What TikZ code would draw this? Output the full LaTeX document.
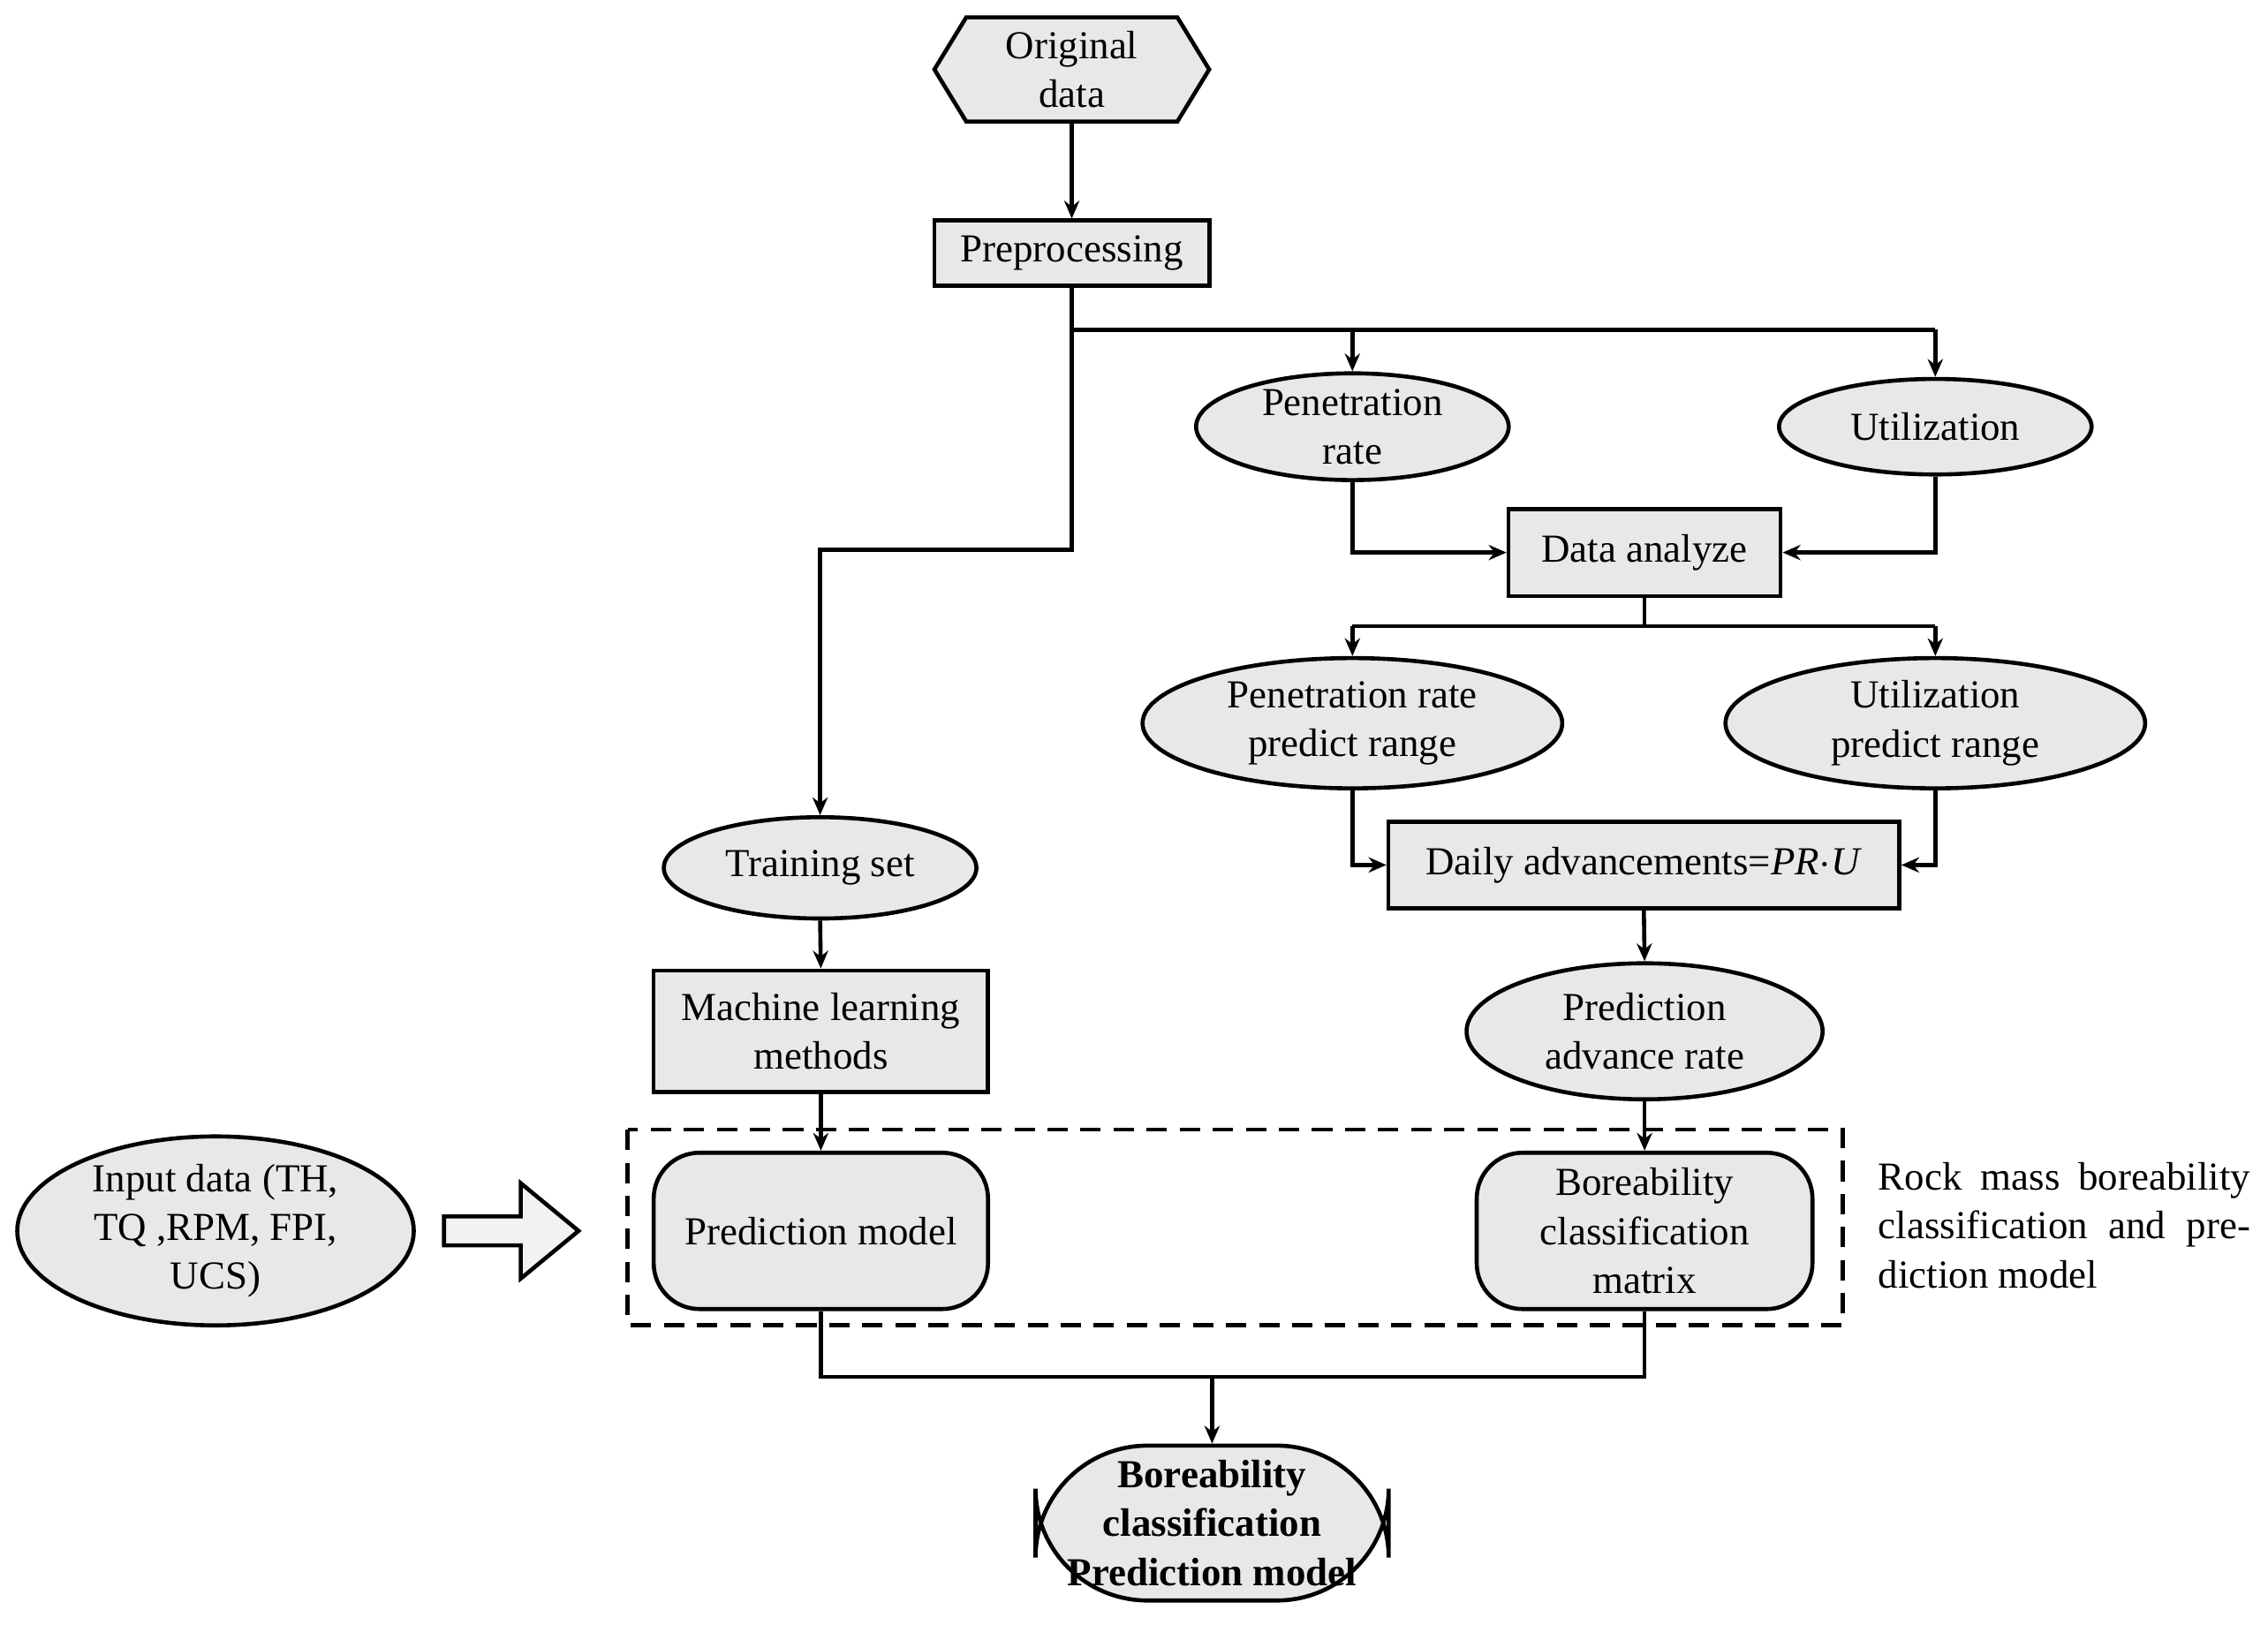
\documentclass[tikz,border=0pt]{standalone}
\usepackage{fontspec}
\setmainfont{Liberation Serif}
\usetikzlibrary{arrows.meta,shapes.geometric}
\begin{document}
\begin{tikzpicture}[x=0.01cm,y=-0.01cm,
  every node/.style={font=\fontsize{7.8}{9.6}\selectfont},
  box/.style={draw,line width=0.8pt,fill=gray!18,align=center,inner sep=0pt},
  ell/.style={draw,line width=0.8pt,fill=gray!18,ellipse,align=center,inner sep=0pt},
  ln/.style={line width=0.8pt},
  arr/.style={line width=0.8pt,-{Stealth[length=3.5pt,width=3pt]}}]
\useasboundingbox (0,0) rectangle (1568,1123);
% hexagon
\node[box,minimum width=1.9cm,minimum height=0.72cm] (orig) at (741,48) {Original\\data};
\fill[white] (orig.south west) rectangle (orig.north east);
\filldraw[ln,fill=gray!18] (646,48)--(668,12)--(814,12)--(836,48)--(814,84)--(668,84)--cycle;
\node[align=center] at (741,48) {Original\\data};
\node[box,minimum width=1.9cm,minimum height=0.45cm] (pre) at (741,175) {Preprocessing};
\node[ell,minimum width=2.16cm,minimum height=0.68cm] (pr) at (935,295) {Penetration\\rate};
\node[ell,minimum width=2.16cm,minimum height=0.66cm] (ut) at (1338,295) {Utilization};
\node[box,minimum width=1.88cm,minimum height=0.6cm] (da) at (1137,382) {Data analyze};
\node[ell,minimum width=2.9cm,minimum height=0.9cm] (prr) at (935,500) {Penetration rate\\predict range};
\node[ell,minimum width=2.9cm,minimum height=0.9cm] (utr) at (1338,500) {Utilization\\predict range};
\node[box,minimum width=3.53cm,minimum height=0.6cm] (day) at (1136.5,598) {Daily advancements=\textit{PR}$\cdot$\textit{U}};
\node[ell,minimum width=2.46cm,minimum height=0.94cm] (par) at (1137,713) {Prediction\\advance rate};
\node[box,rounded corners=9pt,minimum width=2.32cm,minimum height=1.08cm] (bcm) at (1137,851) {Boreability\\classification\\matrix};
\node[ell,minimum width=2.16cm,minimum height=0.7cm] (ts) at (567,600) {Training set};
\node[box,minimum width=2.31cm,minimum height=0.84cm] (ml) at (567.5,713) {Machine learning\\methods};
\node[box,rounded corners=9pt,minimum width=2.31cm,minimum height=1.08cm] (pm) at (567.5,851) {Prediction model};
\draw[line width=0.8pt,dash pattern=on 4pt off 2.5pt] (434,781) rectangle (1274,916);
\node[ell,minimum width=2.74cm,minimum height=1.3cm] (in) at (149,851) {Input data (TH,\\TQ ,RPM, FPI,\\UCS)};
\draw[line width=0.8pt,fill=gray!10] (307,841)--(360,841)--(360,818)--(400,851)--(360,884)--(360,861)--(307,861)--cycle;
\node[align=justify,text width=2.57cm,inner sep=0pt,anchor=north west] (rock) at (1298,803) {Rock mass boreability classification and prediction model};
\node[box,rounded corners=22pt,minimum width=2.44cm,minimum height=1.07cm,font=\fontsize{7.8}{9.6}\selectfont\bfseries] (fin) at (838,1053) {Boreability\\classification\\Prediction model};
% connectors
\draw[arr] (orig.south) -- (pre.north);
\coordinate (b1) at (741,228);
\draw[ln] (pre.south) -- (b1);
\draw[ln] (b1) -- (1338,228);
\draw[arr] (935,228) -- (pr.north);
\draw[arr] (1338,228) -- (ut.north);
\draw[arr] (b1) -- (741,380) -- (567,380) -- (ts.north);
\draw[arr] (pr.south) |- (da.west);
\draw[arr] (ut.south) |- (da.east);
\coordinate (b2) at (1137,433);
\draw[ln] (da.south) -- (b2);
\draw[ln] (935,433) -- (1338,433);
\draw[arr] (935,433) -- (prr.north);
\draw[arr] (1338,433) -- (utr.north);
\draw[arr] (prr.south) |- (day.west);
\draw[arr] (utr.south) |- (day.east);
\draw[arr] (day.south) -- (par.north);
\draw[arr] (par.south) -- (bcm.north);
\draw[arr] (ts.south) -- (ml.north);
\draw[arr] (ml.south) -- (pm.north);
\coordinate (b3) at (838,952);
\draw[ln] (pm.south) |- (b3) -| (bcm.south);
\draw[arr] (b3) -- (fin.north);
\end{tikzpicture}
\end{document}
